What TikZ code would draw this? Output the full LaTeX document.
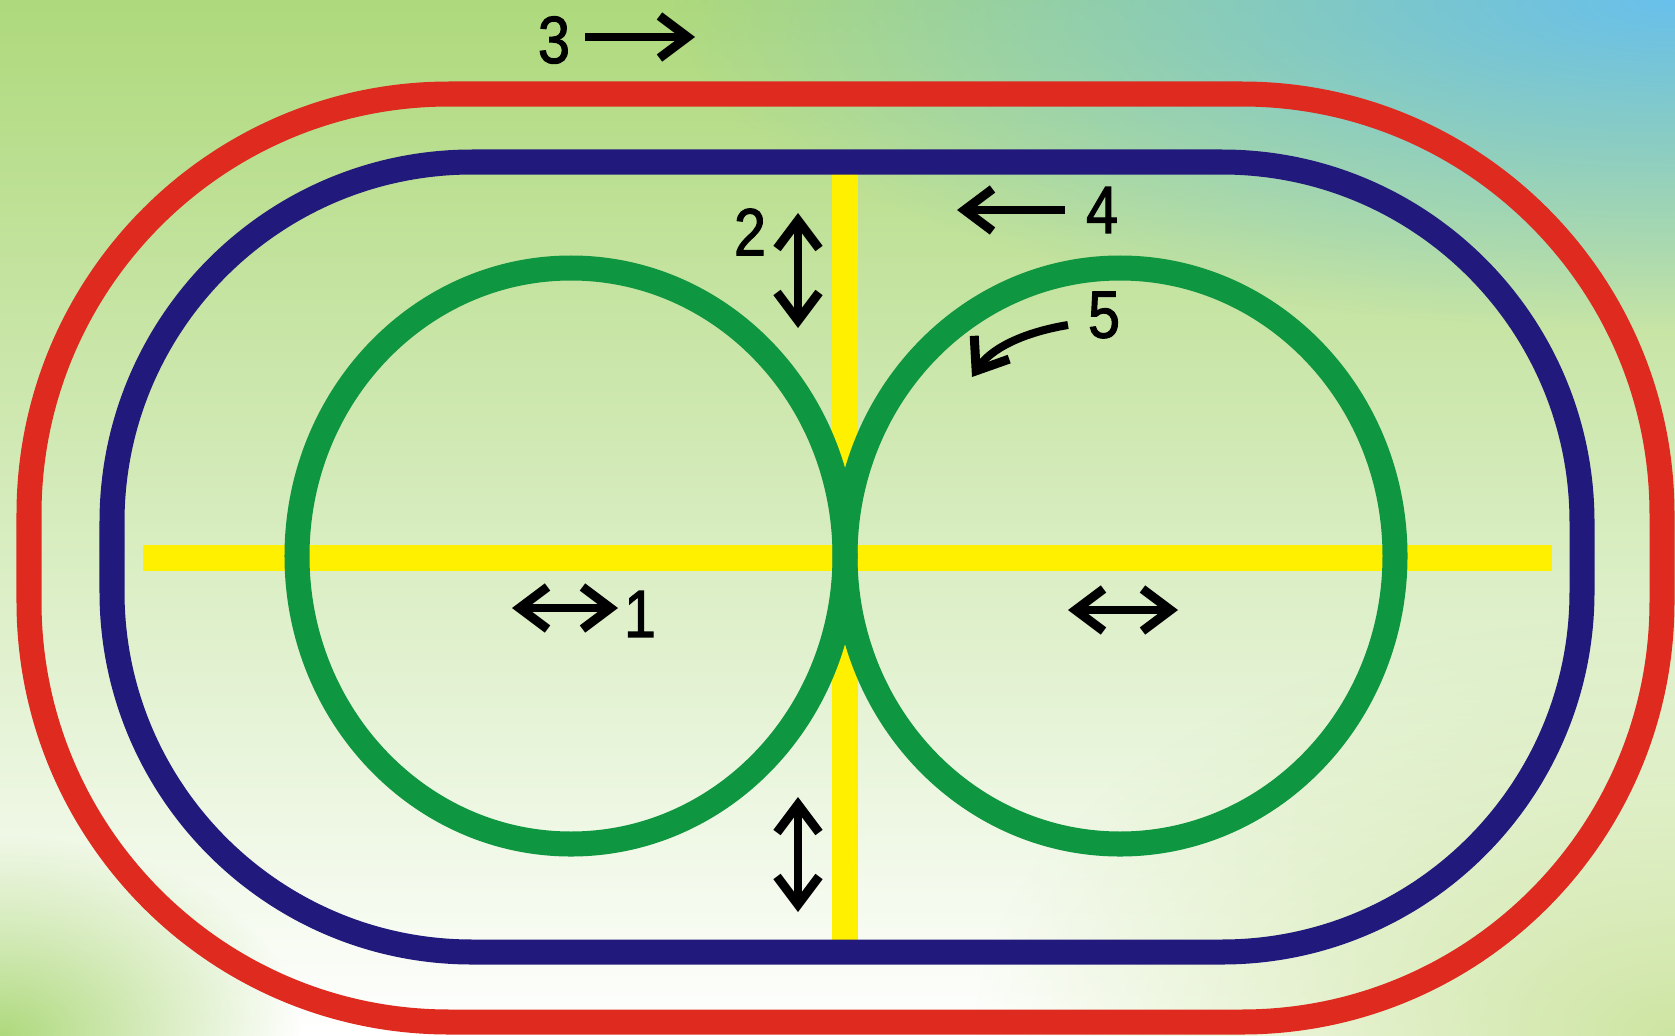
\documentclass[tikz,border=0pt]{standalone}
\usepackage{fontspec}
\setmainfont{Liberation Sans}
\newfontfamily\digitfont{Liberation Sans}[FakeStretch=0.86,FakeBold=1.6]
\usetikzlibrary{arrows.meta,fadings}
\definecolor{trackred}{HTML}{DE2A1F}
\definecolor{trackblue}{HTML}{22197C}
\definecolor{trackgreen}{HTML}{0E9640}
\definecolor{axisyellow}{HTML}{FFF000}
\definecolor{bgtop}{HTML}{AED97C}
\definecolor{bgmid}{HTML}{CDE5A2}
\definecolor{skyblue}{HTML}{68C0EC}
\tikzfading[name=softspot, inner color=transparent!0, outer color=transparent!100]
\tikzset{
  track/.style={line width=0.25cm},
  axis/.style={axisyellow, line width=0.26cm},
  lbl/.style={font=\digitfont\fontsize{19}{19}\selectfont, inner sep=0pt},
}
\begin{document}
\begin{tikzpicture}[x=0.01cm, y=-0.01cm, >={Straight Barb[length=0.28cm,width=0.42cm,line width=0.09cm]}, line width=0.08cm]
	\useasboundingbox (0,0) rectangle (1675,1036);
	% background
	\shade[top color=bgtop, middle color=bgmid, bottom color=white] (0,0) rectangle (1675,1036);
	\fill[skyblue, path fading=softspot] (1675,0) ellipse (1000 and 330);
	\fill[bgtop, path fading=softspot] (0,1036) ellipse (300 and 200);
	\fill[bgmid, path fading=softspot] (1675,1036) ellipse (700 and 420);
	% axes
	\draw[axis] (143,558) -- (1552,558);
	\draw[axis] (845,162) -- (845,952);
	% tracks
	\draw[track, trackgreen] (571,556) ellipse (274 and 288);
	\draw[track, trackgreen] (1120,556) ellipse (275 and 288);
	\draw[track, trackblue, rounded corners=3.6cm] (112,162) rectangle (1582,952);
	\draw[track, trackred, rounded corners=4.2cm] (29,94) rectangle (1662,1022);
	% labels and motions
	\node[lbl] (n3) at (554,40) {3};
	\draw[->] (585,37) -- (695,37);
	\node[lbl] (n2) at (750,232) {2};
	\draw[<->] (798,213) -- (798,328);
	\node[lbl] (n4) at (1102,210) {4};
	\draw[->] (1065,210) -- (957,210);
	\node[lbl] (n5) at (1104,315) {5};
	\draw[->] (1068,325) .. controls (1020,333) and (990,350) .. (972,377);
	\node[lbl] (n1) at (640,614) {1};
	\draw[<->] (512,608) -- (618,608);
	\draw[<->] (1068,610) -- (1178,610);
	\draw[<->] (798,797) -- (798,912);
\end{tikzpicture}
\end{document}
